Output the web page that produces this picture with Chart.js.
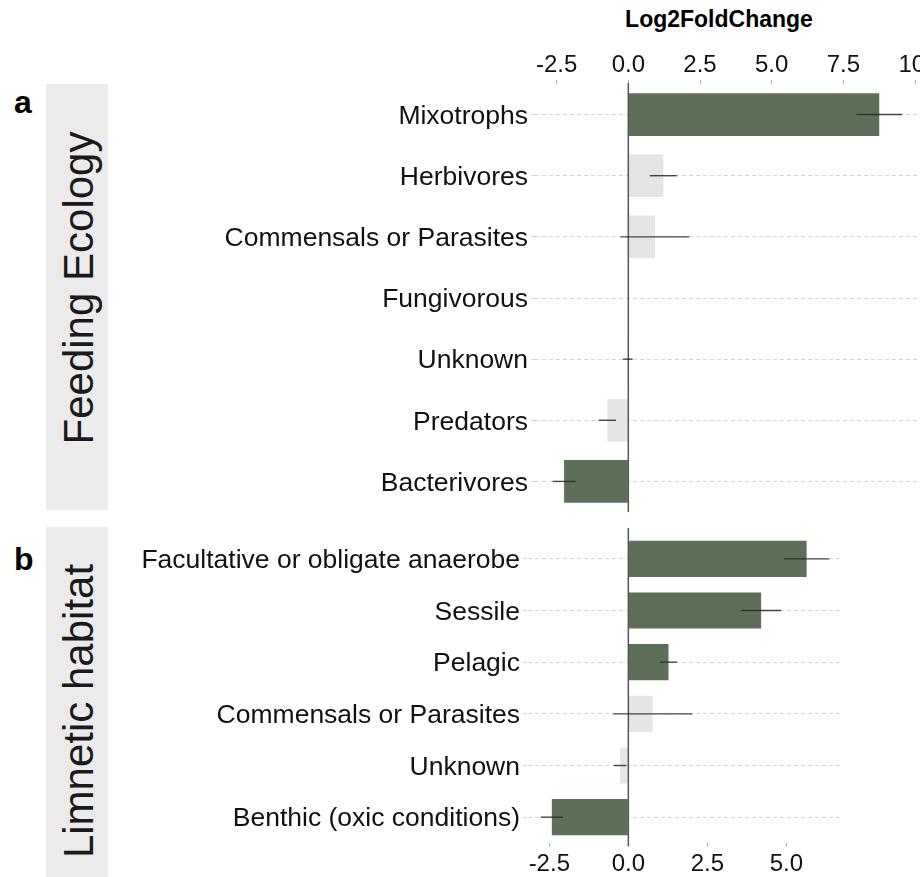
<!DOCTYPE html>
<html>
<head>
<meta charset="utf-8">
<title>Log2FoldChange</title>
<script src="https://cdn.jsdelivr.net/npm/chart.js@4.4.1/dist/chart.umd.min.js"></script>
<style>
    body {
        margin: 0;
        width: 920px;
        height: 877px;
        overflow: hidden;
        background: #ffffff;
        position: relative;
        font-family: "Liberation Sans", Arial, sans-serif;
    }
    .strip {
        position: absolute;
        left: 46px;
        width: 62px;
        background: #ebebeb;
    }
    .strip-text {
        position: absolute;
        white-space: nowrap;
        font-size: 42px;
        line-height: 1;
        color: #1a1a1a;
        transform: translate(-50%, -50%) rotate(-90deg);
    }
    .panel-tag {
        position: absolute;
        font-weight: bold;
        font-size: 32px;
        line-height: 1;
        color: #000;
    }
    #axisTitle {
        position: absolute;
        left: 719px;
        top: 8px;
        transform: translateX(-50%);
        font-weight: bold;
        font-size: 23px;
        line-height: 1;
        color: #000;
    }
    canvas {
        position: absolute;
    }
</style>
</head>
<body>
<div class="strip" style="top:84px;height:426px;"></div>
<div class="strip" style="top:527px;height:360px;"></div>
<div class="strip-text" style="left:79px;top:288px;">Feeding Ecology</div>
<div class="strip-text" style="left:79px;top:711px;">Limnetic habitat</div>
<div class="panel-tag" style="left:14px;top:86px;">a</div>
<div class="panel-tag" style="left:14px;top:543px;">b</div>
<div id="axisTitle">Log2FoldChange</div>

<canvas id="feedingChart" width="820" height="512" style="left:110px;top:0px;"></canvas>
<canvas id="habitatChart" width="733" height="357" style="left:110px;top:520px;"></canvas>

<script>
// Panel a - feeding ecology
const feedingCategories = ['Mixotrophs', 'Herbivores', 'Commensals or Parasites', 'Fungivorous', 'Unknown', 'Predators', 'Bacterivores'];
const feedingLfc = [8.75, 1.22, 0.93, 0, -0.02, -0.73, -2.24];
const feedingSe = [0.8, 0.47, 1.2, 0, 0.17, 0.3, 0.4];
const feedingSignificant = [true, false, false, false, false, false, true];
const feedingTicks = [-2.5, 0, 2.5, 5, 7.5, 10];
const feedingTickLabels = ['-2.5', '0.0', '2.5', '5.0', '7.5', '10'];

// Panel b - limnetic habitat
const habitatCategories = ['Facultative or obligate anaerobe', 'Sessile', 'Pelagic', 'Commensals or Parasites', 'Unknown', 'Benthic (oxic conditions)'];
const habitatLfc = [5.64, 4.2, 1.27, 0.77, -0.26, -2.42];
const habitatSe = [0.72, 0.63, 0.27, 1.25, 0.2, 0.35];
const habitatSignificant = [true, true, true, false, false, true];
const habitatTicks = [-2.5, 0, 2.5, 5];
const habitatTickLabels = ['-2.5', '0.0', '2.5', '5.0'];

const GREEN = '#5e6f59';
const GREY = '#e5e5e5';
const FONT = '"Liberation Sans", Arial, sans-serif';

// zero line + error bars, drawn with the chart's own scales
function makeErrorPlugin(values, errors, extTop, extBottom) {
    return {
        id: 'errorBars',
        afterDatasetsDraw(chart) {
            const ctx = chart.ctx;
            const xs = chart.scales.x;
            const ys = chart.scales.y;
            const area = chart.chartArea;
            ctx.save();
            ctx.strokeStyle = '#555555';
            ctx.lineWidth = 1.5;
            const x0 = xs.getPixelForValue(0);
            ctx.beginPath();
            ctx.moveTo(x0, area.top - extTop);
            ctx.lineTo(x0, area.bottom + extBottom);
            ctx.stroke();

            ctx.strokeStyle = 'rgba(40,40,40,0.85)';
            ctx.lineWidth = 1.4;
            values.forEach((v, i) => {
                if (!errors[i]) return;
                const y = ys.getPixelForValue(i);
                ctx.beginPath();
                ctx.moveTo(xs.getPixelForValue(v - errors[i]), y);
                ctx.lineTo(xs.getPixelForValue(v + errors[i]), y);
                ctx.stroke();
            });
            ctx.restore();
        }
    };
}

function buildChart(canvasId, cfg) {
    const ctx = document.getElementById(canvasId).getContext('2d');
    return new Chart(ctx, {
        type: 'bar',
        data: {
            labels: cfg.categories,
            datasets: [{
                data: cfg.values,
                backgroundColor: cfg.significant.map(s => s ? GREEN : GREY),
                barPercentage: 0.7,
                categoryPercentage: 1
            }]
        },
        options: {
            indexAxis: 'y',
            responsive: false,
            animation: false,
            layout: { padding: { top: cfg.padTop, left: 0, right: 0, bottom: 0 } },
            plugins: {
                legend: { display: false },
                tooltip: { enabled: false }
            },
            scales: {
                x: {
                    position: cfg.xPosition,
                    min: cfg.min,
                    max: cfg.max,
                    afterBuildTicks: scale => {
                        scale.ticks = cfg.ticks.map(v => ({ value: v }));
                    },
                    ticks: {
                        // last top label sits at the page edge, nudge it inwards a bit
                        callback: (value, index) => cfg.padLast && index === cfg.tickLabels.length - 1
                            ? cfg.tickLabels[index] + ' '
                            : cfg.tickLabels[index],
                        font: { family: FONT, size: 24 },
                        color: '#111111',
                        padding: cfg.xTickPad,
                        maxRotation: 0,
                        autoSkip: false
                    },
                    grid: { drawOnChartArea: false, tickLength: 4, color: '#b5b5b5' },
                    border: { display: false },
                    afterFit: scale => {
                        scale.height = cfg.xHeight;
                        scale.paddingLeft = 0;
                        scale.paddingRight = 0;
                    }
                },
                y: {
                    ticks: {
                        font: { family: FONT, size: 26.5 },
                        color: '#111111',
                        padding: 3,
                        labelOffset: 2,
                        autoSkip: false
                    },
                    grid: {
                        offset: false,
                        color: '#d4d4d4',
                        lineWidth: 1,
                        tickLength: cfg.yTickLen,
                        tickBorderDash: [4, 3]
                    },
                    border: { display: false, dash: [4, 3] },
                    afterFit: scale => {
                        scale.width = cfg.yWidth;
                        scale.paddingTop = 0;
                        scale.paddingBottom = 0;
                    }
                }
            }
        },
        plugins: [makeErrorPlugin(cfg.values, cfg.errors, cfg.zeroTop, cfg.zeroBottom)]
    });
}

document.addEventListener('DOMContentLoaded', () => {
    buildChart('feedingChart', {
        categories: feedingCategories,
        values: feedingLfc,
        errors: feedingSe,
        significant: feedingSignificant,
        ticks: feedingTicks,
        tickLabels: feedingTickLabels,
        padLast: true,
        min: -3.254,
        max: 10.52,
        xPosition: 'top',
        xHeight: 84,
        xTickPad: 0,
        padTop: 0,
        yWidth: 425,
        yTickLen: 4,
        zeroTop: 1,
        zeroBottom: 1
    });

    buildChart('habitatChart', {
        categories: habitatCategories,
        values: habitatLfc,
        errors: habitatSe,
        significant: habitatSignificant,
        ticks: habitatTicks,
        tickLabels: habitatTickLabels,
        padLast: false,
        min: -3.174,
        max: 6.79,
        xPosition: 'bottom',
        xHeight: 34,
        xTickPad: 3,
        padTop: 13,
        yWidth: 418,
        yTickLen: 5,
        zeroTop: 5,
        zeroBottom: 3
    });
});
</script>
</body>
</html>
